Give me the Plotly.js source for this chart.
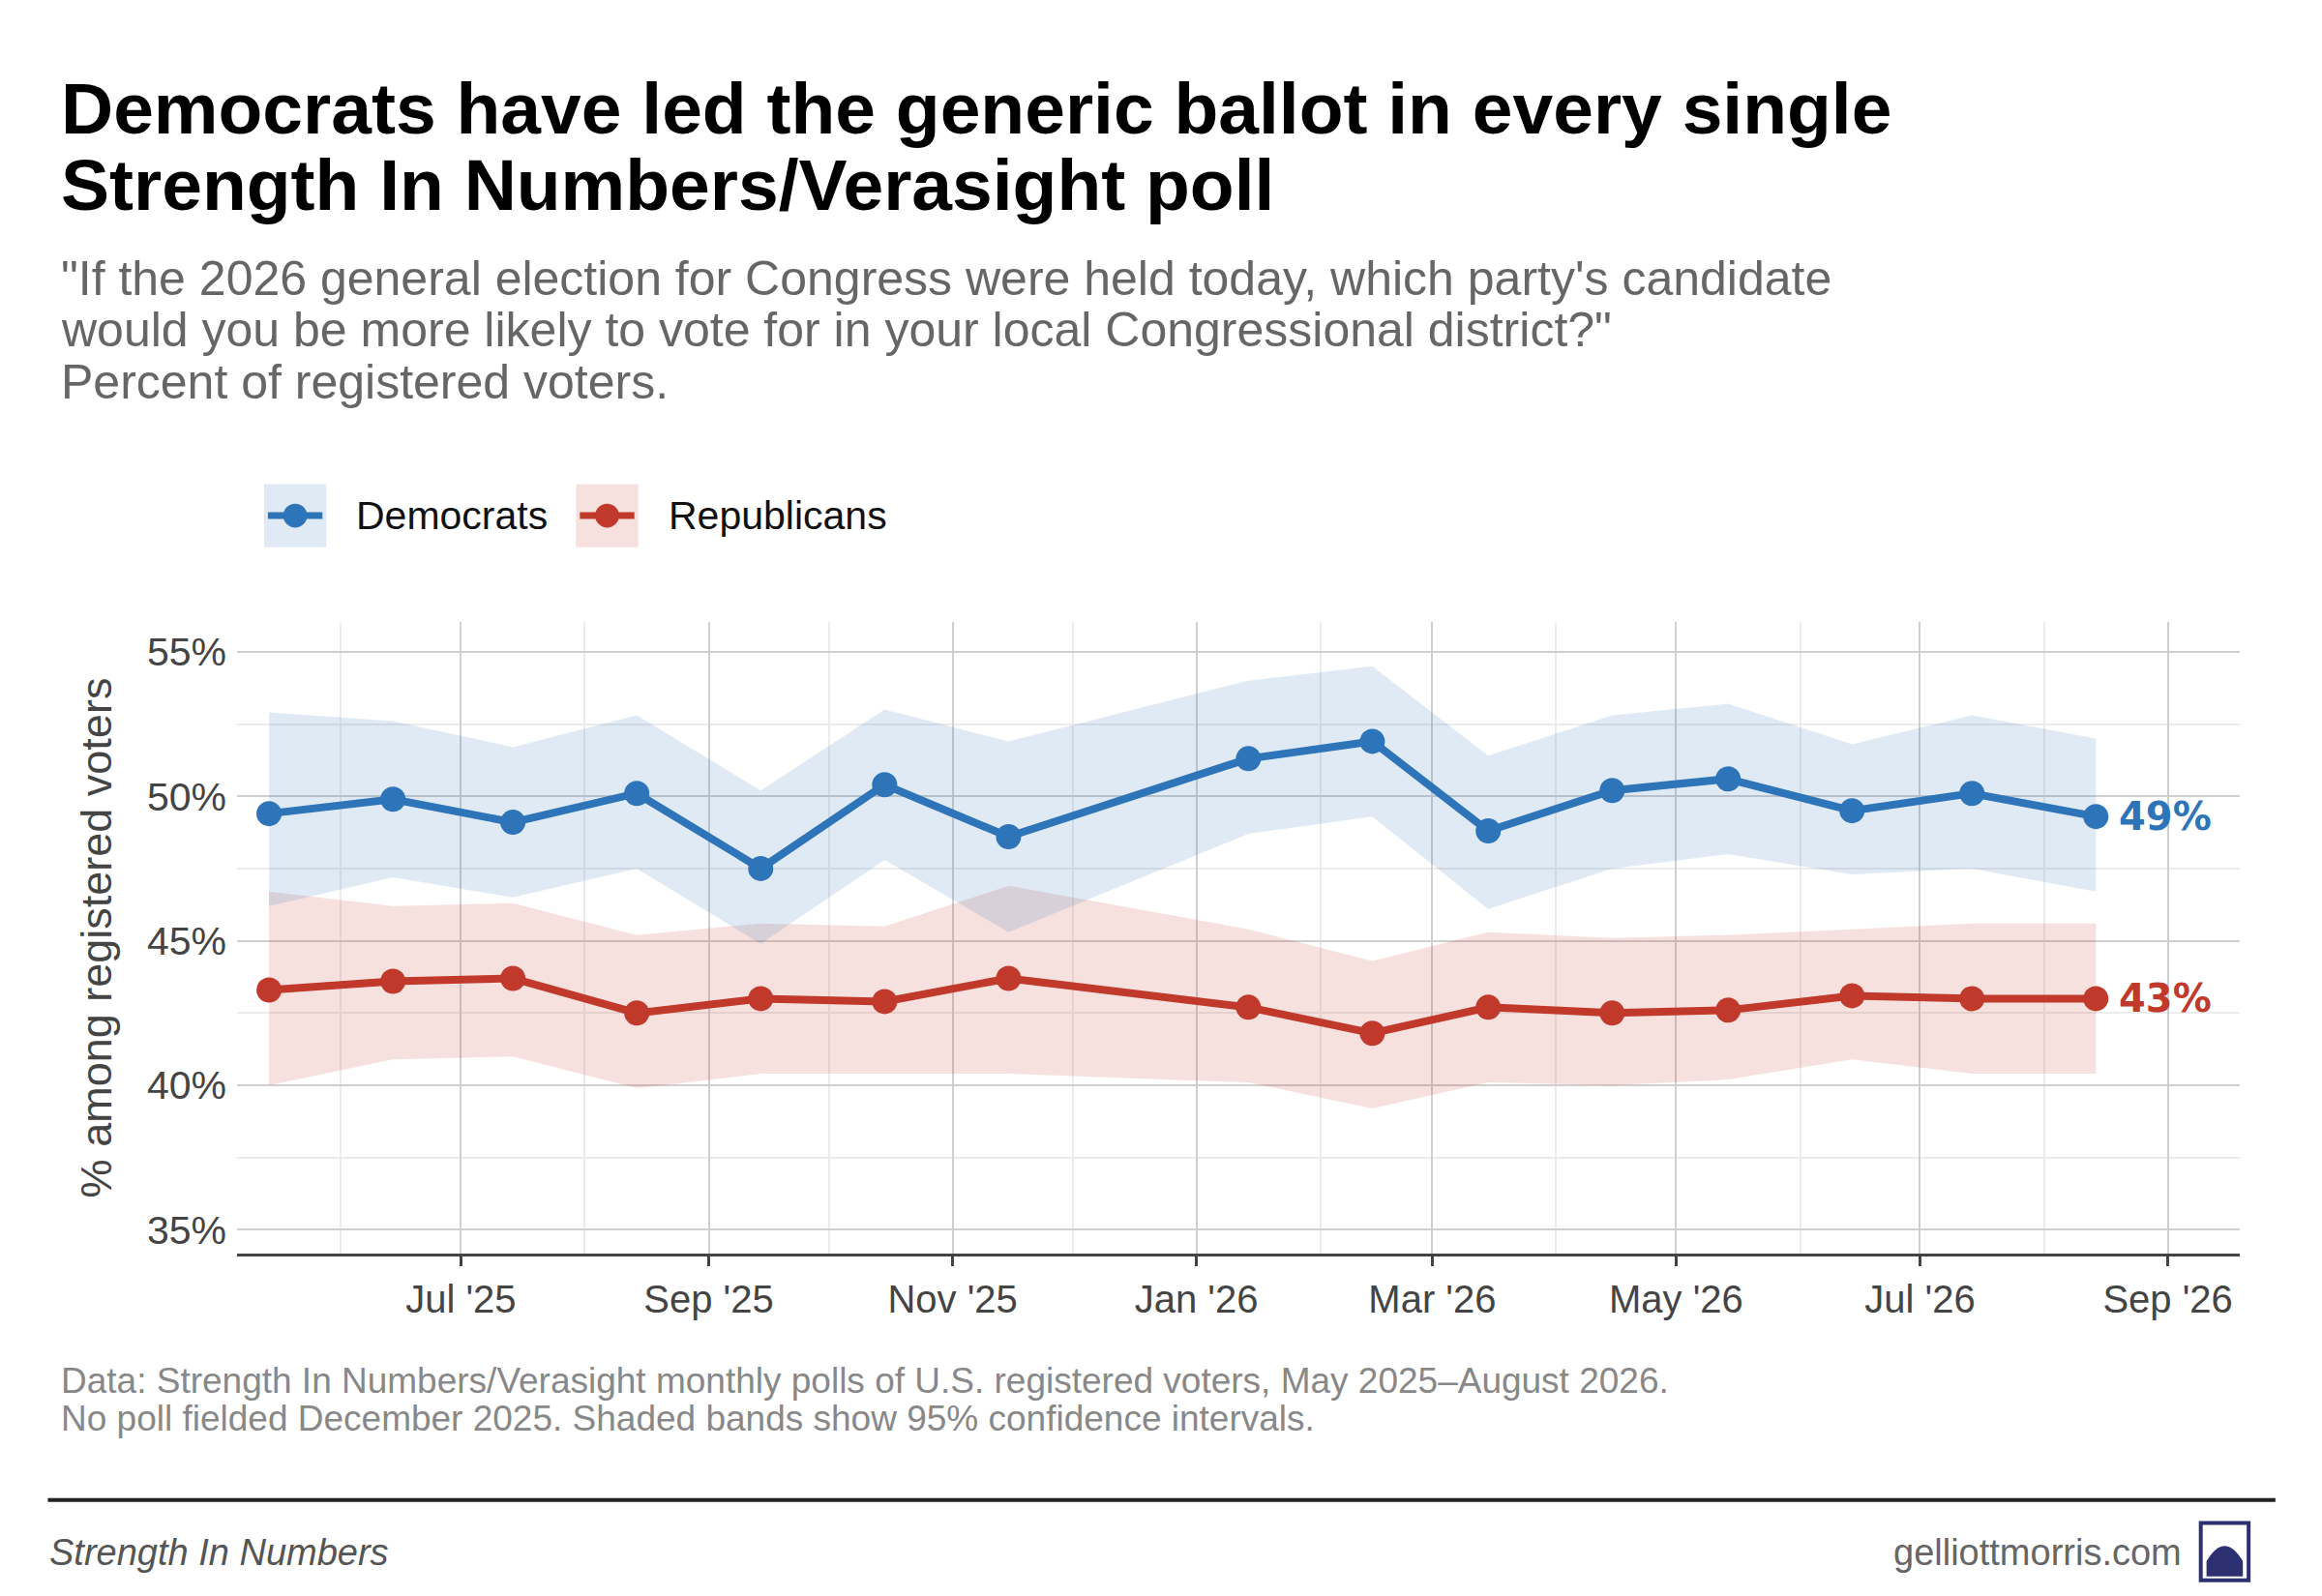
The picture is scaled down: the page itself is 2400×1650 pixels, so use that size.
<!DOCTYPE html>
<html>
<head>
<meta charset="utf-8">
<script src="https://cdn.plot.ly/plotly-3.0.1.min.js"></script>
<style>body{margin:0;background:#fff}#chart{width:2400px;height:1650px}</style>
</head>
<body>
<div id="chart"></div>
<script>
// poll dates (mid-month fieldwork), no December 2025 poll
var pollDates = ['2025-05-14', '2025-06-14', '2025-07-14', '2025-08-14', '2025-09-14', '2025-10-15', '2025-11-15',
    '2026-01-14', '2026-02-14', '2026-03-15', '2026-04-15', '2026-05-14', '2026-06-14', '2026-07-14', '2026-08-14'];

var demVals = [49.4, 49.9, 49.1, 50.1, 47.5, 50.4, 48.6, 51.3, 51.9, 48.8, 50.2, 50.6, 49.5, 50.1, 49.3];
var demHigh = [52.9, 52.6, 51.7, 52.8, 50.2, 53.0, 51.9, 54.0, 54.5, 51.4, 52.8, 53.2, 51.8, 52.8, 52.0];
var demLow = [46.2, 47.2, 46.5, 47.5, 44.9, 47.8, 45.3, 48.7, 49.3, 46.1, 47.5, 48.0, 47.3, 47.5, 46.7];

var repVals = [43.3, 43.6, 43.7, 42.5, 43.0, 42.9, 43.7, 42.7, 41.8, 42.7, 42.5, 42.6, 43.1, 43.0, 43.0];
var repHigh = [46.7, 46.2, 46.3, 45.2, 45.6, 45.5, 46.9, 45.4, 44.3, 45.3, 45.1, 45.2, 45.4, 45.6, 45.6];
var repLow = [40.0, 40.9, 41.0, 39.9, 40.4, 40.4, 40.4, 40.1, 39.2, 40.1, 40.0, 40.2, 40.9, 40.4, 40.4];

var yTicks = [35, 40, 45, 50, 55];

var titleLines = ['Democrats have led the generic ballot in every single', 'Strength In Numbers/Verasight poll'];
var subtitleLines = ['"If the 2026 general election for Congress were held today, which party\'s candidate',
    'would you be more likely to vote for in your local Congressional district?"',
    'Percent of registered voters.'];
var noteLines = ['Data: Strength In Numbers/Verasight monthly polls of U.S. registered voters, May 2025–August 2026.',
    'No poll fielded December 2025. Shaded bands show 95% confidence intervals.'];

var DEM = '#2e74b8', REP = '#c0392b';
var DEM_BAND = 'rgba(46,116,184,0.15)', REP_BAND = 'rgba(192,57,43,0.15)';

function band(lo, hi, color) {
    return {
        x: pollDates.concat(pollDates.slice().reverse()),
        y: lo.concat(hi.slice().reverse()),
        type: 'scatter', mode: 'lines', fill: 'toself',
        fillcolor: color, line: {width: 0}, hoverinfo: 'skip', showlegend: false
    };
}
function series(vals, color, name) {
    return {
        x: pollDates, y: vals, name: name, type: 'scatter', mode: 'lines+markers',
        line: {color: color, width: 8}, marker: {color: color, size: 26}, showlegend: false
    };
}

var data = [
    band(repLow, repHigh, REP_BAND),
    band(demLow, demHigh, DEM_BAND),
    series(repVals, REP, 'Republicans'),
    series(demVals, DEM, 'Democrats')
];

var W = 2400, H = 1650, K = 0.989;
var L = 245, R = 85, T = 643, B = 354;
function px(x) { return (x * K - L) / (W - L - R); }
function py(y) { return (H - B - y * K) / (H - T - B); }

var font = 'Liberation Sans, Arial, sans-serif';
var annotations = [];
function textLines(lines, y0, step, size, color, bold) {
    lines.forEach(function (s, i) {
        annotations.push({text: bold ? '<b>' + s + '</b>' : s, x: px(62), y: py(y0 + i * step),
            xanchor: 'left', yanchor: 'middle', font: {size: size, color: color, family: font}});
    });
}
textLines(titleLines, 113, 80.5, 75, '#000', true);
textLines(subtitleLines, 291, 54, 50, '#666', false);
textLines(noteLines, 1443, 40, 37, '#888', false);

annotations = annotations.concat([
    {text: 'Democrats', x: px(370), y: py(539), xanchor: 'left', yanchor: 'middle', font: {size: 41, color: '#111', family: font}},
    {text: 'Republicans', x: px(697), y: py(539), xanchor: 'left', yanchor: 'middle', font: {size: 41, color: '#111', family: font}},
    {text: '<i>Strength In Numbers</i>', x: px(50), y: py(1623), xanchor: 'left', yanchor: 'middle',
        font: {size: 38, color: '#555', family: font}},
    {text: 'gelliottmorris.com', x: px(2282), y: py(1623), xanchor: 'right', yanchor: 'middle',
        font: {size: 38, color: '#666', family: font}},
    {text: '<b>' + Math.round(demVals[demVals.length - 1]) + '%</b>', x: pollDates[pollDates.length - 1],
        y: demVals[demVals.length - 1], xref: 'x', yref: 'y', xanchor: 'left', xshift: 22, showarrow: false,
        font: {size: 40, color: DEM, family: 'DejaVu Sans, sans-serif'}},
    {text: '<b>' + Math.round(repVals[repVals.length - 1]) + '%</b>', x: pollDates[pollDates.length - 1],
        y: repVals[repVals.length - 1], xref: 'x', yref: 'y', xanchor: 'left', xshift: 22, showarrow: false,
        font: {size: 40, color: REP, family: 'DejaVu Sans, sans-serif'}}
]);
annotations.forEach(function (a) {
    if (!a.xref) { a.xref = 'paper'; a.yref = 'paper'; a.showarrow = false; }
});

var shapes = [
    // legend keys
    {type: 'rect', xref: 'paper', yref: 'paper', x0: px(276), x1: px(341), y0: py(506), y1: py(572), fillcolor: DEM_BAND, line: {width: 0}},
    {type: 'line', xref: 'paper', yref: 'paper', x0: px(280), x1: px(337), y0: py(539), y1: py(539), line: {color: DEM, width: 7}},
    {type: 'circle', xref: 'paper', yref: 'paper', x0: px(296), x1: px(321), y0: py(526.5), y1: py(551.5), fillcolor: DEM, line: {width: 0}},
    {type: 'rect', xref: 'paper', yref: 'paper', x0: px(602), x1: px(667), y0: py(506), y1: py(572), fillcolor: REP_BAND, line: {width: 0}},
    {type: 'line', xref: 'paper', yref: 'paper', x0: px(606), x1: px(663), y0: py(539), y1: py(539), line: {color: REP, width: 7}},
    {type: 'circle', xref: 'paper', yref: 'paper', x0: px(622), x1: px(647), y0: py(526.5), y1: py(551.5), fillcolor: REP, line: {width: 0}},
    // footer rule
    {type: 'line', xref: 'paper', yref: 'paper', x0: px(50), x1: px(2378), y0: py(1568), y1: py(1568), line: {color: '#222', width: 4}},
    // logo
    {type: 'rect', xref: 'paper', yref: 'paper', x0: px(2300), x1: px(2350), y0: py(1592), y1: py(1652), fillcolor: 'rgba(0,0,0,0)', line: {color: '#2d3070', width: 4}},
    {type: 'path', xref: 'paper', yref: 'paper', fillcolor: '#2d3070', line: {width: 0},
        path: 'M ' + px(2306) + ' ' + py(1648) + ' L ' + px(2306) + ' ' + py(1632) + ' Q ' + px(2325) + ' ' + py(1600) + ' ' + px(2344) + ' ' + py(1632) + ' L ' + px(2344) + ' ' + py(1648) + ' Z'}
];

var layout = {
    width: W, height: H,
    margin: {l: L, r: R, t: T, b: B},
    paper_bgcolor: '#fff', plot_bgcolor: '#fff',
    font: {family: font},
    showlegend: false,
    xaxis: {
        type: 'date', range: ['2025-05-06', '2026-09-19'],
        tick0: '2025-07-01', dtick: 'M2', tickformat: "%b '%y",
        tickfont: {size: 40, color: '#444'},
        showgrid: true, gridcolor: '#cfcfcf', gridwidth: 2,
        minor: {dtick: 'M1', tick0: '2025-06-01', showgrid: true, gridcolor: '#ececec', gridwidth: 1.5},
        ticks: 'outside', ticklen: 10, tickwidth: 3, tickcolor: '#444',
        showline: true, linecolor: '#444', linewidth: 3, zeroline: false
    },
    yaxis: {
        range: [34.18, 56.03], tickvals: yTicks,
        ticktext: yTicks.map(function (v) { return v + '%'; }),
        tickfont: {size: 41, color: '#444'},
        showgrid: true, gridcolor: '#cfcfcf', gridwidth: 2,
        minor: {dtick: 2.5, tick0: 32.5, showgrid: true, gridcolor: '#ececec', gridwidth: 1.5},
        zeroline: false, ticks: '', ticklabelstandoff: 10,
        title: {text: '% among registered voters', font: {size: 45, color: '#444'}, standoff: 22}
    },
    annotations: annotations,
    shapes: shapes
};

Plotly.newPlot('chart', data, layout, {displayModeBar: false});
</script>
</body>
</html>
